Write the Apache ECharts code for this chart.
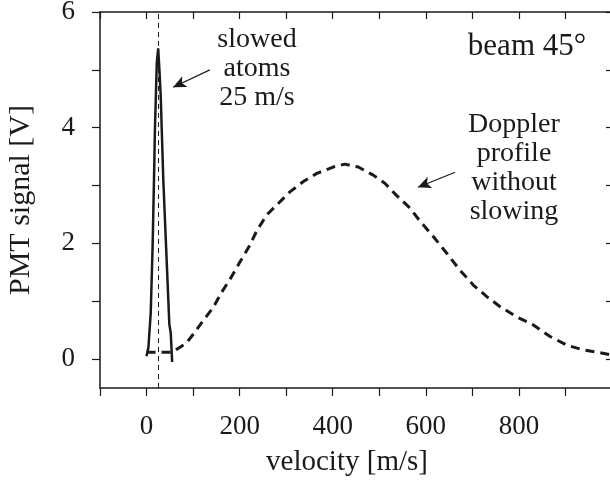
<!DOCTYPE html>
<html>
<head>
<meta charset="utf-8">
<script src="https://cdn.jsdelivr.net/npm/echarts@6/dist/echarts.min.js"></script>
<style>
html,body{margin:0;padding:0;background:#fff;}
#chart{width:610px;height:483px;}
</style>
</head>
<body>
<div id="chart"></div>
<script>
// Doppler profile without slowing (dashed)
const velocityDoppler = [0, 20, 40, 55, 65, 85, 105, 125, 143, 161, 180, 200, 220, 237, 258, 283, 308, 337, 366, 401, 426, 455, 487, 512, 537, 566, 588, 616, 645, 673, 702, 731, 759, 795, 831, 867, 903, 938, 974, 1000];
const signalDoppler   = [0.12, 0.12, 0.12, 0.12, 0.17, 0.27, 0.48, 0.70, 0.89, 1.15, 1.39, 1.67, 1.94, 2.22, 2.49, 2.69, 2.89, 3.07, 3.21, 3.32, 3.37, 3.32, 3.18, 3.04, 2.83, 2.61, 2.38, 2.12, 1.83, 1.54, 1.28, 1.08, 0.91, 0.73, 0.59, 0.39, 0.24, 0.16, 0.11, 0.07];
// Slowed atoms (solid)
const velocitySlowed = [0, 4, 9, 13, 16, 18, 22, 25, 28, 30.5, 32.7, 36, 42, 49, 52, 55];
const signalSlowed   = [0.05, 0.2, 0.8, 1.94, 3.1, 3.96, 5.12, 5.37, 4.95, 4.54, 3.96, 3.1, 1.94, 0.6, 0.45, -0.05];
// Slowed velocity marker
const slowedVelocity = 25;
// Ticks
const xTicks = [-100, 0, 100, 200, 300, 400, 500, 600, 700, 800, 900, 1000];
const xTickLabels = [0, 200, 400, 600, 800];
const yTicks = [0, 1, 2, 3, 4, 5, 6];
const yTickLabels = [0, 2, 4, 6];
// Annotation anchors (data coordinates)
const arrowSlowed = [[136, 5.0], [57, 4.70]];
const arrowDoppler = [[663, 3.23], [583, 2.97]];

const FONT = '"Liberation Serif", "DejaVu Serif", serif';
const INK = '#1a1a1a';

const chart = echarts.init(document.getElementById('chart'), null, {renderer: 'canvas'});

const axisBase = {
  type: 'value',
  splitLine: {show: false},
  axisLine: {show: true, onZero: false, lineStyle: {color: INK, width: 1.5}}
};

chart.setOption({
  animation: false,
  backgroundColor: '#fff',
  grid: {left: 100, top: 12, width: 512, height: 376, containLabel: false, outerBoundsMode: 'none'},
  xAxis: [
    Object.assign({}, axisBase, {
      min: -100, max: 1000, position: 'bottom',
      axisTick: {show: true, inside: false, length: 8, lineStyle: {color: INK, width: 1.2}, customValues: xTicks},
      axisLabel: {show: true, customValues: xTickLabels, margin: 25, color: INK, fontFamily: FONT, fontSize: 27}
    }),
    Object.assign({}, axisBase, {
      min: -100, max: 1000, position: 'top',
      axisTick: {show: true, inside: true, length: 7, lineStyle: {color: INK, width: 1.2}, customValues: xTicks},
      axisLabel: {show: false}
    })
  ],
  yAxis: [
    Object.assign({}, axisBase, {
      min: -0.5, max: 6, position: 'left',
      axisTick: {show: true, inside: false, length: 8, lineStyle: {color: INK, width: 1.2}, customValues: yTicks},
      axisLabel: {show: true, customValues: yTickLabels, margin: 25, color: INK, fontFamily: FONT, fontSize: 27},
      name: 'PMT signal [V]', nameLocation: 'middle', nameGap: 64, nameRotate: 90,
      nameTextStyle: {color: INK, fontFamily: FONT, fontSize: 30}
    }),
    Object.assign({}, axisBase, {
      min: -0.5, max: 6, position: 'right',
      axisTick: {show: true, inside: true, length: 6, lineStyle: {color: INK, width: 1.2}, customValues: yTicks},
      axisLabel: {show: false}
    })
  ],
  series: [
    {
      type: 'line', name: 'Doppler', showSymbol: false, symbol: 'none',
      data: velocityDoppler.map((v, i) => [v, signalDoppler[i]]),
      lineStyle: {color: INK, width: 3, type: [9, 6]},
      z: 3
    },
    {
      type: 'line', name: 'slowed', showSymbol: false, symbol: 'none',
      data: velocitySlowed.map((v, i) => [v, signalSlowed[i]]),
      lineStyle: {color: INK, width: 2.5},
      z: 4,
      markLine: {
        silent: true, symbol: ['none', 'none'], animation: false,
        label: {show: false},
        lineStyle: {color: INK, width: 1, type: [5, 4]},
        data: [{xAxis: slowedVelocity}]
      }
    },
    {
      type: 'line', name: 'arrows', data: [], showSymbol: false,
      markLine: {
        silent: true, animation: false, symbol: ['none', 'arrow'], symbolSize: [9, 13],
        label: {show: false},
        lineStyle: {color: INK, width: 1.2, type: 'solid'},
        data: [
          [{coord: arrowSlowed[0]}, {coord: arrowSlowed[1]}],
          [{coord: arrowDoppler[0]}, {coord: arrowDoppler[1]}]
        ]
      }
    }
  ],
  graphic: [
    {type: 'text', x: 347, y: 462, style: {text: 'velocity [m/s]', fill: INK, font: '29px ' + FONT, textAlign: 'center', textVerticalAlign: 'middle'}},
    {type: 'text', x: 257, y: 69, style: {text: 'slowed\natoms\n25 m/s', fill: INK, font: '28px ' + FONT, textAlign: 'center', textVerticalAlign: 'middle', lineHeight: 29}},
    {type: 'text', x: 527, y: 47, style: {text: 'beam 45°', fill: INK, font: '31px ' + FONT, textAlign: 'center', textVerticalAlign: 'middle'}},
    {type: 'text', x: 514, y: 168, style: {text: 'Doppler\nprofile\nwithout\nslowing', fill: INK, font: '28px ' + FONT, textAlign: 'center', textVerticalAlign: 'middle', lineHeight: 29}}
  ]
});
</script>
</body>
</html>
